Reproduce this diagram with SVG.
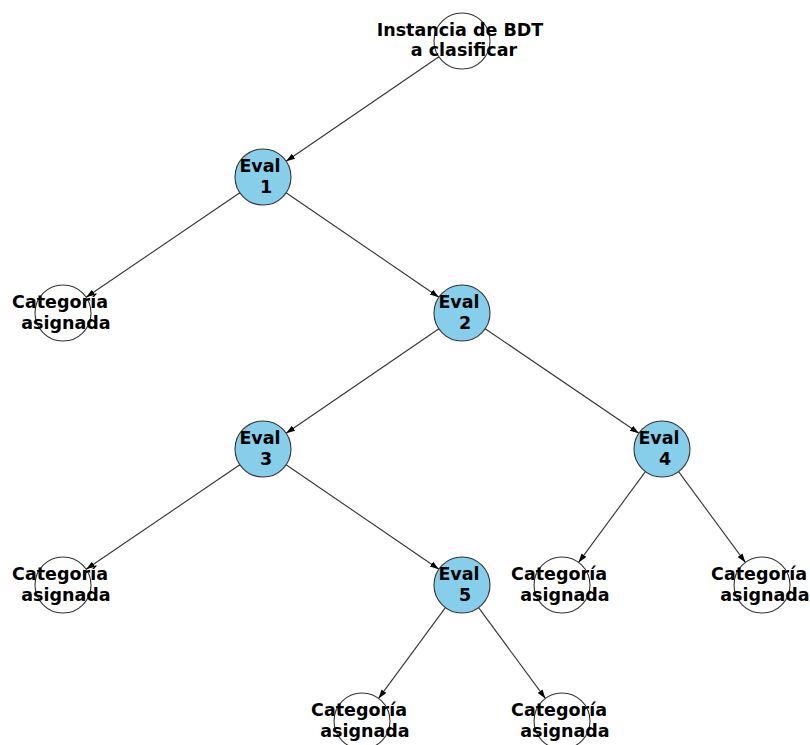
<svg xmlns="http://www.w3.org/2000/svg" width="810" height="745" viewBox="0 0 810 745">
<style>
.e{stroke:#333;stroke-width:1.1;fill:none;marker-end:url(#ah)}
.n{stroke:#333;stroke-width:1.1}
.b{fill:#87CEEB}
.w{fill:#fff}
.t{font-family:"DejaVu Sans",sans-serif;font-weight:bold;font-size:17.5px;fill:#000;text-anchor:middle}
</style>
<defs>
<marker id="ah" markerUnits="userSpaceOnUse" markerWidth="9" markerHeight="7" refX="9" refY="3" orient="auto">
<path d="M0,0 L9,3 L0,6 z" fill="#000"/>
</marker>
</defs>
<rect width="810" height="745" fill="#fff"/>
<g id="edges">
<line class="e" x1="438.9" y1="56.8" x2="286.1" y2="161.2"/>
<line class="e" x1="239.85" y1="192.74" x2="86.15" y2="297.26"/>
<line class="e" x1="286.1" y1="192.8" x2="438.9" y2="297.2"/>
<line class="e" x1="438.9" y1="328.8" x2="286.1" y2="433.2"/>
<line class="e" x1="485.15" y1="328.74" x2="638.85" y2="433.26"/>
<line class="e" x1="239.85" y1="464.74" x2="86.15" y2="569.26"/>
<line class="e" x1="286.1" y1="464.8" x2="438.9" y2="569.2"/>
<line class="e" x1="645.41" y1="471.56" x2="578.59" y2="562.44"/>
<line class="e" x1="678.59" y1="471.56" x2="745.41" y2="562.44"/>
<line class="e" x1="445.41" y1="607.56" x2="378.59" y2="698.44"/>
<line class="e" x1="478.59" y1="607.56" x2="545.41" y2="698.44"/>
</g>
<g id="root"><circle class="n w" cx="462" cy="41" r="28"/><text class="t" x="460" y="36">Instancia de BDT</text><text class="t" x="464" y="56">a clasificar</text></g>
<g id="eval1"><circle class="n b" cx="263" cy="177" r="28"/><text class="t" x="260" y="172">Eval</text><text class="t" x="266" y="193">1</text></g>
<g id="leaf1"><circle class="n w" cx="63" cy="313" r="28"/><text class="t" x="60" y="308">Categoría</text><text class="t" x="66" y="329">asignada</text></g>
<g id="eval2"><circle class="n b" cx="462" cy="313" r="28"/><text class="t" x="459" y="308">Eval</text><text class="t" x="465" y="329">2</text></g>
<g id="eval3"><circle class="n b" cx="263" cy="449" r="28"/><text class="t" x="260" y="444">Eval</text><text class="t" x="266" y="465">3</text></g>
<g id="eval4"><circle class="n b" cx="662" cy="449" r="28"/><text class="t" x="659" y="444">Eval</text><text class="t" x="665" y="465">4</text></g>
<g id="leaf2"><circle class="n w" cx="63" cy="585" r="28"/><text class="t" x="60" y="580">Categoría</text><text class="t" x="66" y="601">asignada</text></g>
<g id="eval5"><circle class="n b" cx="462" cy="585" r="28"/><text class="t" x="459" y="580">Eval</text><text class="t" x="465" y="601">5</text></g>
<g id="leaf3"><circle class="n w" cx="562" cy="585" r="28"/><text class="t" x="559" y="580">Categoría</text><text class="t" x="565" y="601">asignada</text></g>
<g id="leaf4"><circle class="n w" cx="762" cy="585" r="28"/><text class="t" x="759" y="580">Categoría</text><text class="t" x="765" y="601">asignada</text></g>
<g id="leaf5"><circle class="n w" cx="362" cy="721" r="28"/><text class="t" x="359" y="716">Categoría</text><text class="t" x="365" y="737">asignada</text></g>
<g id="leaf6"><circle class="n w" cx="562" cy="721" r="28"/><text class="t" x="559" y="716">Categoría</text><text class="t" x="565" y="737">asignada</text></g>
</svg>
